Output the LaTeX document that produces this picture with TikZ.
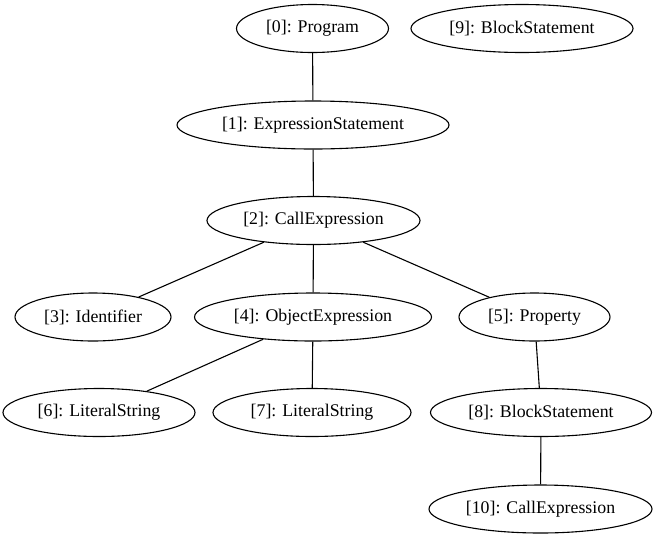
\documentclass[tikz,border=0pt]{standalone}
\usepackage{fontspec}
\setmainfont{Liberation Serif}
\usetikzlibrary{shapes.geometric}
\begin{document}
\begin{tikzpicture}[x=1pt,y=-1pt,
  astnode/.style={draw, ellipse, inner sep=0pt, minimum height=48pt, font=\fontsize{17.8}{20}\selectfont, line width=1.1pt},
  edge/.style={draw, line width=1.1pt}]
\useasboundingbox (0,0) rectangle (658,539);
\node[astnode, minimum width=152pt] (n0) at (312.5,28.5) {[0]: Program};
\node[astnode, minimum width=222pt] (n9) at (522,28.5) {[9]: BlockStatement};
\node[astnode, minimum width=272pt] (n1) at (313,125) {[1]: ExpressionStatement};
\node[astnode, minimum width=213pt] (n2) at (313.5,220.5) {[2]: CallExpression};
\node[astnode, minimum width=156pt] (n3) at (93,317) {[3]: Identifier};
\node[astnode, minimum width=237pt] (n4) at (313,317) {[4]: ObjectExpression};
\node[astnode, minimum width=151pt] (n5) at (534.5,317) {[5]: Property};
\node[astnode, minimum width=192pt] (n6) at (99,412.5) {[6]: LiteralString};
\node[astnode, minimum width=198pt] (n7) at (312,412.5) {[7]: LiteralString};
\node[astnode, minimum width=221pt] (n8) at (541,412.5) {[8]: BlockStatement};
\node[astnode, minimum width=223pt] (n10) at (540.5,509) {[10]: CallExpression};
\draw[edge] (n0) -- (n1);
\draw[edge] (n1) -- (n2);
\draw[edge] (n2) -- (n3);
\draw[edge] (n2) -- (n4);
\draw[edge] (n2) -- (n5);
\draw[edge] (n4) -- (n6);
\draw[edge] (n4) -- (n7);
\draw[edge] (n5) -- (n8);
\draw[edge] (n8) -- (n10);
\end{tikzpicture}
\end{document}
